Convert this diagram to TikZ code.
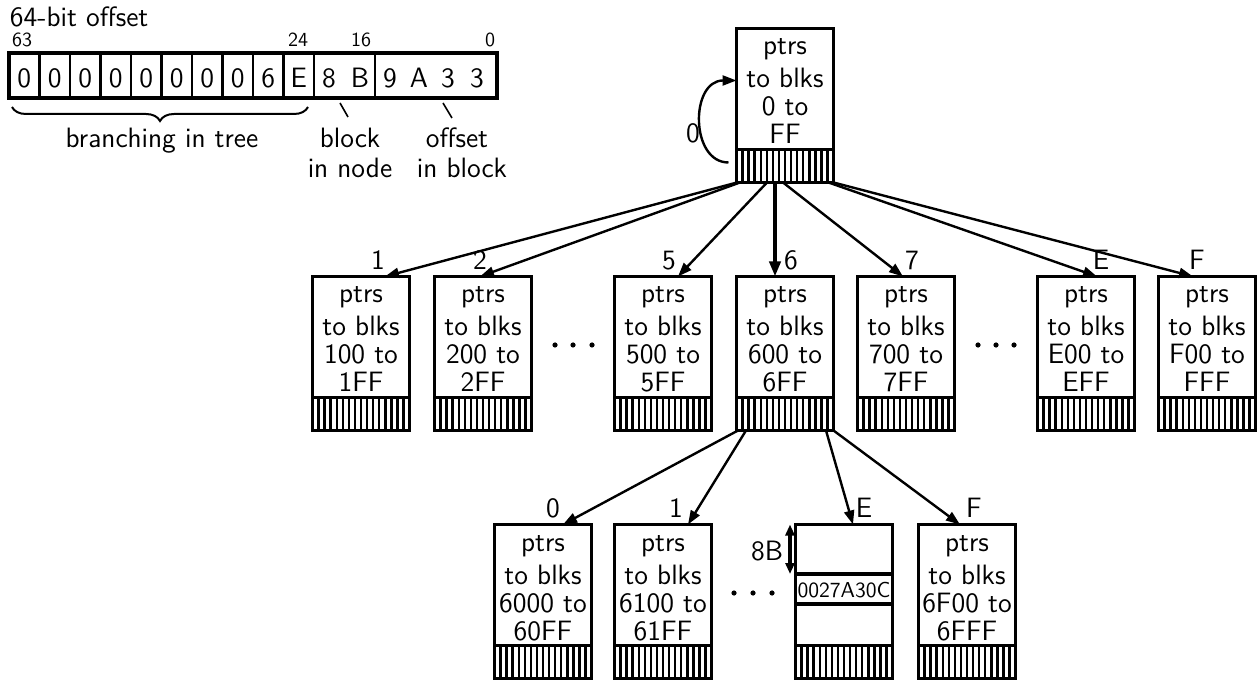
\documentclass[tikz,border=0pt]{standalone}
\usetikzlibrary{arrows.meta,calc,decorations.pathreplacing}
\tikzset{
  mainf/.style={font=\sffamily\fontsize{14}{16}\selectfont, inner sep=0pt, outer sep=0pt},
  smallf/.style={font=\sffamily\fontsize{10}{12}\selectfont, inner sep=0pt, outer sep=0pt},
  datf/.style={font=\sffamily\fontsize{10.8}{12}\selectfont, inner sep=0pt, outer sep=0pt},
  blk/.style={draw, line width=1.8pt, minimum width=48.5pt, minimum height=77pt, inner sep=0pt, outer sep=0pt, anchor=north west},
  hatchline/.style={line width=1.25pt},
  sepline/.style={line width=1.6pt},
  arr/.style={line width=1.2pt, -{Triangle[length=7pt,width=5pt]}},
  thickarr/.style={line width=2pt, -{Triangle[length=7.5pt,width=5.5pt]}},
  dblarr/.style={line width=2pt, {Triangle[length=5.5pt,width=4.5pt]}-{Triangle[length=5.5pt,width=4.5pt]}},
}
\newcommand\hatchbox[1]{%
  \draw[sepline] ($(#1.south west)+(0,-33)$) -- ($(#1.south east)+(0,-33)$);
  \foreach \i in {1,...,15}{\draw[hatchline] ($(#1.south west)!\i/16!(#1.south east)$) -- ++(0,-33);}
}
\newcommand\tblock[7]{%
  \node[blk] (#1) at (#2,#3) {};
  \hatchbox{#1}
  \node[mainf, anchor=base] (#1-a) at ($(#1.north)+(0,26.5)$) {#4};
  \node[mainf, anchor=base] (#1-b) at ($(#1.north)+(0,59.5)$) {#5};
  \node[mainf, anchor=base] (#1-c) at ($(#1.north)+(0,87.5)$) {#6};
  \node[mainf, anchor=base] (#1-d) at ($(#1.north)+(0,115.5)$) {#7};
}
\begin{document}
\begin{tikzpicture}[x=0.5pt,y=-0.5pt]
\useasboundingbox (0,0) rectangle (1257,683);

% ---------- 64-bit offset ----------
\node[mainf, anchor=base west] (title) at (10,27) {64-bit offset};
\node[smallf, anchor=base] (b63) at (22,47) {63};
\node[smallf, anchor=base] (b24) at (298,47) {24};
\node[smallf, anchor=base] (b16) at (361,47) {16};
\node[smallf, anchor=base] (b0) at (490,47) {0};
\draw[line width=1.8pt] (9,53) rectangle (497,98);
\foreach \k in {1,...,10,12}{\draw[line width=1.4pt] (9+\k*30.5,53) -- ++(0,45);}
\foreach \k/\d in {1/0,2/0,3/0,4/0,5/0,6/0,7/0,8/0,9/6,10/E}{
  \node[mainf, anchor=base] (c\k) at (9+\k*30.5-15.25,88) {\d};}
\node[mainf, anchor=base] (c11) at (329,88) {8};
\node[mainf, anchor=base] (c12) at (360,88) {B};
\node[mainf, anchor=base] (c13) at (390,88) {9};
\node[mainf, anchor=base] (c14) at (419,88) {A};
\node[mainf, anchor=base] (c15) at (448,88) {3};
\node[mainf, anchor=base] (c16) at (477,88) {3};
\draw[line width=1pt, decorate, decoration={brace, amplitude=7pt}] (308,107) -- (12,107);
\node[mainf, anchor=base] (branch) at (162,148) {branching in tree};
\node[mainf, anchor=base] (blk1) at (350,148) {block};
\node[mainf, anchor=base] (blk2) at (350,178) {in node};
\node[mainf, anchor=base] (off1) at (457,148) {offset};
\node[mainf, anchor=base] (off2) at (462,178) {in block};
\draw[line width=0.8pt] (340,103) -- (348,117);
\draw[line width=0.8pt] (443,103) -- (452,118);

% ---------- root ----------
\tblock{R}{736.5}{28.5}{ptrs}{to blks}{0 to}{FF}
\coordinate (ls) at ($(R.south west)+(-8,-20)$);
\draw[arr] (ls) .. controls (690,162.5) and (690,80.5) .. ($(R.north west)+(0,52)$);
\node[mainf, anchor=base] (l0) at (693,143) {0};

% ---------- level 1 ----------
\tblock{A1}{312.5}{276.5}{ptrs}{to blks}{100 to}{1FF}
\tblock{A2}{434.5}{276.5}{ptrs}{to blks}{200 to}{2FF}
\tblock{A5}{614.5}{276.5}{ptrs}{to blks}{500 to}{5FF}
\tblock{A6}{736.5}{276.5}{ptrs}{to blks}{600 to}{6FF}
\tblock{A7}{857.5}{276.5}{ptrs}{to blks}{700 to}{7FF}
\tblock{AE}{1037.5}{276.5}{ptrs}{to blks}{E00 to}{EFF}
\tblock{AF}{1158.5}{276.5}{ptrs}{to blks}{F00 to}{FFF}

\draw[arr] ($(R.south west)+(0.5,0)$) -- ($(A1.north)+(24,0)$);
\draw[arr] ($(R.south west)+(3.5,0)$) -- ($(A2.north)+(-3,0)$);
\draw[arr] ($(R.south west)+(30.5,0)$) -- ($(A5.north)+(15,0)$);
\draw[thickarr] ($(R.south west)+(38.5,0)$) -- ($(A6.north)+(-10,0)$);
\draw[arr] ($(R.south west)+(46.5,0)$) -- ($(A7.north)+(-3,0)$);
\draw[arr] ($(R.south east)+(-5,0)$) -- ($(AE.north)+(11,0)$);
\draw[arr] (R.south east) -- ($(AF.north)+(-14,0)$);

\node[mainf, anchor=base] (e1) at (378,270) {1};
\node[mainf, anchor=base] (e2) at (480,270) {2};
\node[mainf, anchor=base] (e5) at (669,270) {5};
\node[mainf, anchor=base] (e6) at (791,270) {6};
\node[mainf, anchor=base] (e7) at (912,270) {7};
\node[mainf, anchor=base] (eE) at (1101,270) {E};
\node[mainf, anchor=base] (eF) at (1197,270) {F};

\foreach \x in {555,573,592,978,996,1014}{\fill (\x,345) circle[radius=1.3pt];}

% ---------- level 2 ----------
\tblock{B0}{494.5}{524.5}{ptrs}{to blks}{6000 to}{60FF}
\tblock{B1}{614.5}{524.5}{ptrs}{to blks}{6100 to}{61FF}
\node[blk] (D) at (795.5,524.5) {};
\hatchbox{D}
\draw[sepline] ($(D.north west)+(0,49.5)$) -- ($(D.north east)+(0,49.5)$);
\draw[sepline] ($(D.north west)+(0,79.5)$) -- ($(D.north east)+(0,79.5)$);
\node[datf, anchor=base] (dval) at ($(D.north)+(0,73)$) {0027A30C};
\draw[dblarr] ($(D.north west)+(-5.5,0)$) -- ($(D.north west)+(-5.5,49.5)$);
\node[mainf, anchor=base] (l8b) at (767,560) {8B};
\tblock{BF}{918.5}{524.5}{ptrs}{to blks}{6F00 to}{6FFF}

\draw[arr] ($(A6.south west)+(1.5,0)$) -- ($(B0.north)+(20,0)$);
\draw[arr] ($(A6.south west)+(9.5,0)$) -- ($(B1.north)+(25,0)$);
\draw[arr] ($(A6.south west)+(89.5,0)$) -- ($(D.north)+(9,0)$);
\draw[arr] (A6.south east) -- ($(BF.north)+(-7,0)$);

\node[mainf, anchor=base] (f0) at (553,517) {0};
\node[mainf, anchor=base] (f1) at (676,517) {1};
\node[mainf, anchor=base] (fE) at (864,517) {E};
\node[mainf, anchor=base] (fF) at (974,517) {F};

\foreach \x in {734,753,772}{\fill (\x,593) circle[radius=1.3pt];}
\end{tikzpicture}
\end{document}
